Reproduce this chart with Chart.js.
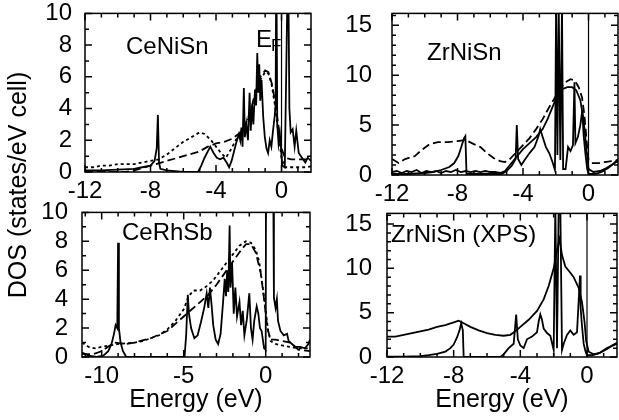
<!DOCTYPE html>
<html><head><meta charset="utf-8">
<script src="https://cdn.jsdelivr.net/npm/chart.js@4.4.0/dist/chart.umd.min.js"></script>
<style>
html,body{margin:0;padding:0;background:#fff;width:619px;height:420px;overflow:hidden;position:relative;}
canvas{position:absolute;}
.lbl{position:absolute;font-family:'Liberation Sans',Arial,Helvetica,sans-serif;color:#000;white-space:nowrap;line-height:1;}
</style></head><body>
<canvas id="c1"></canvas><canvas id="c2"></canvas><canvas id="c3"></canvas><canvas id="c4"></canvas>
<div class="lbl" style="left:126px;top:34px;font-size:24px">CeNiSn</div>
<div class="lbl" style="left:256px;top:27px;font-size:24px">E</div>
<div class="lbl" style="left:271px;top:37px;font-size:17px">F</div>
<div class="lbl" style="left:427px;top:40px;font-size:24px">ZrNiSn</div>
<div class="lbl" style="left:122px;top:220px;font-size:24px">CeRhSb</div>
<div class="lbl" style="left:391px;top:222px;font-size:24px">ZrNiSn (XPS)</div>
<div class="lbl" style="left:-132px;top:172px;width:300px;text-align:center;font-size:25px;transform:rotate(-90deg);transform-origin:150px 13px;">DOS (states/eV cell)</div>
<script>
// ---------- data (energy in eV, DOS in states/eV cell) ----------
const xTicksA = [-12, -8, -4, 0];
const xTicksB = [-10, -5, 0];
const yTicks10 = [0, 2, 4, 6, 8, 10];
const yTicks15 = [0, 5, 10, 15];

const efLine10 = [[0, 0], [0, 10]];
const efLine16 = [[0, 0], [0, 16.2]];

// CeNiSn
const ceNiSnCalc = [[-12,0.1],[-11,0.1],[-10,0.15],[-9,0.2],[-8.5,0.3],[-8,0.4],[-7.75,0.7],[-7.62,1.5],[-7.55,3.6],[-7.48,0.6],[-7.4,0.2],[-7,0.1],[-6,0],[-5.1,0],[-4.9,0.4],[-4.7,0.9],[-4.5,1.3],[-4.35,1.6],[-4.15,1.2],[-3.95,0.9],[-3.75,0.8],[-3.55,0.9],[-3.35,0.6],[-3.2,0.3],[-3.05,0.7],[-2.9,1.3],[-2.75,1.9],[-2.6,2.4],[-2.52,2.0],[-2.45,2.8],[-2.38,1.6],[-2.3,5.3],[-2.24,2.2],[-2.15,3.0],[-2.05,2.0],[-1.95,5.0],[-1.88,2.6],[-1.8,4.2],[-1.72,3.0],[-1.62,5.2],[-1.55,4.2],[-1.48,7.5],[-1.42,5.0],[-1.36,6.8],[-1.3,4.5],[-1.22,5.8],[-1.12,3.5],[-1.02,2.2],[-0.92,1.5],[-0.82,1.2],[-0.72,2.0],[-0.62,1.6],[-0.52,2.6],[-0.42,3.5],[-0.36,4.2],[-0.32,14],[-0.26,3.0],[-0.18,1.8],[-0.1,2.4],[0.05,0.4],[0.2,0.3],[0.4,14],[0.48,4.0],[0.56,2.5],[0.68,2.7],[0.8,1.6],[0.9,2.6],[1.05,1.2],[1.25,0.9],[1.45,0.6],[1.6,0.9],[1.8,0.7]];
const ceNiSnBroad = [[-12,0],[-9.5,0],[-9,0.1],[-8,0.4],[-7,0.7],[-6,1.0],[-5,1.3],[-4.5,1.6],[-4,1.8],[-3.5,1.9],[-3,2.1],[-2.5,2.5],[-2.2,3.0],[-1.9,3.8],[-1.6,5.0],[-1.3,6.0],[-1.0,6.4],[-0.8,6.3],[-0.6,5.6],[-0.4,4.5],[-0.2,3.0],[0,1.5],[0.2,0.9],[0.6,0.8],[1.0,0.8],[1.4,0.8],[1.8,0.8]];
const ceNiSnExp = [[-12,0.3],[-11.5,0.3],[-11,0.4],[-10.5,0.4],[-10,0.5],[-9.5,0.5],[-9,0.5],[-8.5,0.6],[-8,0.7],[-7.5,0.8],[-7,1.1],[-6.5,1.5],[-6,1.9],[-5.5,2.2],[-5,2.5],[-4.7,2.4],[-4.3,2.0],[-4.0,1.6],[-3.7,1.2],[-3.4,0.9],[-3.1,1.4],[-2.8,2.0],[-2.5,2.5],[-2.2,3.0],[-1.9,3.6],[-1.6,4.6],[-1.3,5.8],[-1.0,6.3],[-0.8,6.2],[-0.6,5.5],[-0.4,4.2],[-0.2,2.5],[0,0.9],[0.2,0.3],[0.6,0.3],[1.0,0.3],[1.4,0.3],[1.8,0.35]];

// ZrNiSn
const zrNiSnCalc = [[-12,0.1],[-11,0.1],[-10.5,0.15],[-10,0.2],[-9.5,0.3],[-9,0.5],[-8.5,0.8],[-8.2,1.2],[-7.95,1.9],[-7.75,2.9],[-7.6,3.7],[-7.52,3.9],[-7.45,0.1],[-7,0.1],[-6,0.1],[-5.3,0.1],[-5,0.4],[-4.7,0.9],[-4.45,1.6],[-4.38,5.0],[-4.3,1.6],[-4.1,1.0],[-3.9,1.5],[-3.6,2.2],[-3.3,2.8],[-3.05,3.9],[-2.95,4.6],[-2.8,3.8],[-2.6,2.8],[-2.4,2.2],[-2.2,1.3],[-2.05,0.5],[-1.98,17],[-1.9,2],[-1.82,17],[-1.72,1.5],[-1.62,17],[-1.55,0.6],[-1.4,0.6],[-1.25,2.8],[-1.1,2.4],[-0.95,3.0],[-0.86,9.3],[-0.8,3.2],[-0.65,3.8],[-0.5,5.0],[-0.38,6.5],[-0.3,4.0],[-0.18,2.0],[-0.08,0.6],[0,0.1],[0.4,0.1],[0.8,0.3],[1.2,0.7],[1.5,1.1],[1.8,1.4]];
const zrNiSnSmooth = [[-12,0.3],[-11.7,0.4],[-11.4,0.2],[-11.1,0.4],[-10.8,0.3],[-10.5,0.5],[-10.2,0.2],[-9.9,0.4],[-9.6,0.3],[-9.3,0.4],[-9,0.2],[-8.7,0.4],[-8.4,0.3],[-8.1,0.5],[-7.8,0.3],[-7.5,0.4],[-7.2,0.3],[-6.9,0.4],[-6.6,0.3],[-6.3,0.4],[-6,0.3],[-5.7,0.3],[-5.4,0.2],[-5.1,0.4],[-4.8,1.0],[-4.4,1.8],[-4.0,2.6],[-3.6,3.2],[-3.2,3.8],[-2.8,4.6],[-2.5,5.6],[-2.2,6.8],[-1.9,8.0],[-1.6,8.6],[-1.3,8.8],[-1.0,8.8],[-0.75,8.5],[-0.5,7.5],[-0.3,5.5],[-0.15,3.0],[0,0.6],[0.3,0.3],[0.7,0.4],[1.1,0.7],[1.5,1.1],[1.8,1.6]];
const zrNiSnBroad = [[-12,1.6],[-11.6,1.2],[-11.2,1.6],[-10.6,1.9],[-10.2,2.5],[-9.7,3.1],[-9.2,3.3],[-8.6,3.3],[-8.0,3.4],[-7.5,3.5],[-7.0,3.1],[-6.6,2.8],[-6.2,2.2],[-5.8,1.7],[-5.4,1.4],[-5.1,1.3],[-4.8,1.6],[-4.4,2.3],[-4.0,3.0],[-3.6,3.7],[-3.2,4.6],[-2.8,5.6],[-2.4,6.8],[-2.0,7.9],[-1.7,8.7],[-1.4,9.3],[-1.1,9.6],[-0.85,9.5],[-0.6,8.8],[-0.4,7.8],[-0.25,6.0],[-0.12,3.5],[0,1.5],[0.2,1.2],[0.6,1.2],[1.0,1.3],[1.4,1.4],[1.8,1.5]];

// CeRhSb
const ceRhSbCalc = [[-11.2,0.3],[-10.8,0.1],[-10.3,0],[-9.9,0.1],[-9.6,0.4],[-9.4,0.9],[-9.25,1.6],[-9.15,2.2],[-9.05,2.0],[-9.0,7.9],[-8.95,2.0],[-8.85,1.0],[-8.7,0.4],[-8.5,0],[-6,0],[-4.95,0],[-4.85,1.5],[-4.75,4.3],[-4.68,3.0],[-4.55,2.0],[-4.35,1.3],[-4.15,1.5],[-3.95,2.4],[-3.75,3.4],[-3.6,4.4],[-3.5,3.4],[-3.4,4.8],[-3.3,3.6],[-3.2,2.2],[-3.05,1.2],[-2.9,0.9],[-2.75,1.6],[-2.6,3.8],[-2.5,5.4],[-2.42,4.2],[-2.35,6.0],[-2.28,4.5],[-2.2,9.1],[-2.15,4.8],[-2.05,6.5],[-1.95,3.0],[-1.85,4.8],[-1.75,2.8],[-1.6,3.8],[-1.5,2.2],[-1.4,3.2],[-1.3,1.5],[-1.15,2.6],[-1.0,4.4],[-0.9,2.0],[-0.8,1.2],[-0.7,2.5],[-0.55,3.5],[-0.45,3.0],[-0.35,2.0],[-0.25,1.8],[-0.1,0.6],[0,0.5],[0.02,14],[0.45,14],[0.5,4.1],[0.6,3.4],[0.68,4.0],[0.75,2.5],[0.9,1.8],[1.1,1.5],[1.3,1.6],[1.4,1.1],[1.6,0.9],[1.8,0.7],[2.1,0.7],[2.4,0.6],[2.6,0.9],[2.7,1.2]];
const ceRhSbBroad = [[-11.2,0.2],[-10.5,0.2],[-10,0.4],[-9.5,0.8],[-9.2,1.0],[-8.5,0.9],[-8,1.0],[-7,1.3],[-6,1.8],[-5,2.8],[-4.5,3.3],[-4,3.8],[-3.5,4.3],[-3,5.0],[-2.5,5.8],[-2,6.6],[-1.5,7.4],[-1.2,7.8],[-0.9,7.8],[-0.6,7.2],[-0.3,5.8],[-0.1,4.0],[0.1,2.0],[0.3,1.2],[0.6,1.2],[1,1.1],[1.5,1.0],[2,0.5],[2.7,0.4]];
const ceRhSbExp = [[-11.2,1.0],[-10.8,0.7],[-10.4,0.6],[-10,0.7],[-9.5,0.8],[-9,0.9],[-8.5,0.95],[-8,1.0],[-7.5,1.1],[-7,1.3],[-6.5,1.5],[-6,1.9],[-5.5,2.5],[-5,3.3],[-4.7,4.2],[-4.4,4.6],[-4,4.6],[-3.6,4.9],[-3.2,5.3],[-2.8,5.9],[-2.4,6.5],[-2,7.1],[-1.6,7.7],[-1.2,8.0],[-0.9,7.9],[-0.6,7.4],[-0.4,6.6],[-0.2,5.0],[0,3.2],[0.15,1.8],[0.3,1.1],[0.6,0.9],[1,0.8],[1.5,0.7],[2,0.6],[2.7,0.6]];

// ZrNiSn (XPS)
const zrNiSnXps = [[-12,2.3],[-11.5,2.3],[-11,2.5],[-10.5,2.7],[-10,2.9],[-9.5,3.1],[-9,3.4],[-8.5,3.6],[-8,3.9],[-7.7,4.1],[-7.4,3.8],[-7,3.4],[-6.5,3.0],[-6,2.7],[-5.5,2.5],[-5,2.4],[-4.6,2.5],[-4.3,2.9],[-4,3.4],[-3.5,4.2],[-3,5.2],[-2.6,6.5],[-2.3,8.0],[-2.0,10.0],[-1.8,12.0],[-1.65,13.3],[-1.5,11.5],[-1.3,10.2],[-1.0,9.5],[-0.8,9.0],[-0.5,7.8],[-0.3,6.2],[-0.15,4.0],[-0.05,1.8],[0.1,0.6],[0.4,0.3],[0.8,0.5],[1.2,0.9],[1.5,1.3],[1.8,1.6]];
const zrNiSnCalc2 = [[-12,0.05],[-11,0.05],[-10,0.1],[-9.5,0.2],[-9,0.35],[-8.5,0.6],[-8.2,1.0],[-8.0,1.4],[-7.8,2.2],[-7.65,3.0],[-7.55,3.8],[-7.45,3.0],[-7.4,0.0],[-7,0],[-6,0],[-5.2,0],[-5,0.3],[-4.7,1.0],[-4.4,1.5],[-4.25,4.8],[-4.15,2.0],[-4.0,1.3],[-3.8,1.0],[-3.6,2.0],[-3.3,2.3],[-3.0,2.8],[-2.9,4.0],[-2.8,4.8],[-2.7,4.2],[-2.6,3.2],[-2.4,2.7],[-2.2,2.4],[-2.0,0.8],[-1.9,17],[-1.8,1.0],[-1.7,17],[-1.6,17],[-1.5,0.8],[-1.4,1.5],[-1.2,2.5],[-1.0,3.0],[-0.8,2.5],[-0.6,2.8],[-0.42,9.2],[-0.38,5.5],[-0.3,3.5],[-0.2,1.5],[-0.1,0.7],[0,0.2],[0.3,0.2],[0.7,0.4],[1.2,1.0],[1.8,1.5]];

// ---------- drawing ----------
const FONT = "'Liberation Sans', Arial, Helvetica, sans-serif";
const SOLID = {};
const DASH = {borderDash: [8, 4]};
const SHORT = {borderDash: [3, 3]};
const EF = {borderWidth: 1.2};

const framePlugin = {
  id: 'frame',
  afterDatasetsDraw(chart, args, o) {
    const {ctx, chartArea: {left, top, right, bottom}, scales: {x, y}} = chart;
    ctx.save();
    ctx.strokeStyle = '#000';
    ctx.lineWidth = 1.5;
    ctx.beginPath();
    const ln = (a, b, c, d) => { ctx.moveTo(a, b); ctx.lineTo(c, d); };
    for (let v = Math.ceil(x.min - 1e-9); v <= x.max + 1e-9; v += 1) {
      const p = x.getPixelForValue(v);
      const L = (Math.abs(v % o.xMajor) < 1e-6) ? 7 : 4;
      ln(p, bottom, p, bottom - L); ln(p, top, p, top + L);
    }
    for (let v = Math.ceil(y.min - 1e-9); v <= y.max + 1e-9; v += 1) {
      const p = y.getPixelForValue(v);
      const L = (Math.abs(v % o.yMajor) < 1e-6) ? 7 : 4;
      ln(left, p, left + L, p); ln(right, p, right - L, p);
    }
    ctx.stroke();
    ctx.strokeRect(left, top, right - left, bottom - top);
    ctx.restore();
  }
};

function ds(pairs, style) {
  return Object.assign({
    data: pairs.map(p => ({x: p[0], y: p[1]})),
    borderColor: '#000', borderWidth: 1.8, pointRadius: 0, fill: false, tension: 0
  }, style);
}

const panels = [
  {id: 'c1', l: 85, t: 13, r: 311, b: 172, xMin: -12, xMax: 1.8, yMax: 10, xT: xTicksA, yT: yTicks10, xMajor: 4, yMajor: 2, yPad: 13, title: null,
   sets: () => [ds(ceNiSnExp, SHORT), ds(ceNiSnBroad, DASH), ds(ceNiSnCalc, SOLID), ds(efLine10, EF)]},
  {id: 'c2', l: 392, t: 13, r: 618, b: 175, xMin: -12, xMax: 1.8, yMax: 16.2, xT: xTicksA, yT: yTicks15, xMajor: 4, yMajor: 5, yPad: 20, title: null,
   sets: () => [ds(zrNiSnBroad, DASH), ds(zrNiSnSmooth, SOLID), ds(zrNiSnCalc, SOLID), ds(efLine16, EF)]},
  {id: 'c3', l: 82, t: 212, r: 310, b: 357, xMin: -11.2, xMax: 2.7, yMax: 10, xT: xTicksB, yT: yTicks10, xMajor: 5, yMajor: 2, yPad: 14, title: 'Energy (eV)',
   sets: () => [ds(ceRhSbExp, SHORT), ds(ceRhSbBroad, DASH), ds(ceRhSbCalc, SOLID)]},
  {id: 'c4', l: 387, t: 213, r: 617, b: 357, xMin: -12, xMax: 1.8, yMax: 16.2, xT: xTicksA, yT: yTicks15, xMajor: 4, yMajor: 5, yPad: 15, title: 'Energy (eV)',
   sets: () => [ds(zrNiSnXps, SOLID), ds(zrNiSnCalc2, SOLID), ds(efLine16, EF)]}
];

const YW = 80, PT = 20, PR = 12;

function build(P, cv, w, h, XH) {
  cv.width = w; cv.height = h;
  cv.style.width = w + 'px'; cv.style.height = h + 'px';
  return new Chart(cv, {
    type: 'line',
    data: {datasets: P.sets()},
    plugins: [framePlugin],
    options: {
      responsive: false, animation: false, devicePixelRatio: 1,
      layout: {padding: {left: 0, top: PT, right: PR, bottom: 0}},
      plugins: {legend: {display: false}, tooltip: {enabled: false}, frame: {xMajor: P.xMajor, yMajor: P.yMajor}},
      scales: {
        x: {
          type: 'linear', min: P.xMin, max: P.xMax,
          afterBuildTicks: s => { s.ticks = P.xT.map(v => ({value: v})); },
          afterFit: s => { s.height = XH; },
          grid: {display: false, drawTicks: false}, border: {display: false},
          ticks: {color: '#000', font: {family: FONT, size: 24}, padding: 5, maxRotation: 0, autoSkip: false, callback: v => String(v)},
          title: {display: !!P.title, text: P.title || '', color: '#000', font: {family: FONT, size: 25}, padding: {top: 0, bottom: 0}}
        },
        y: {
          type: 'linear', min: 0, max: P.yMax,
          afterBuildTicks: s => { s.ticks = P.yT.map(v => ({value: v})); },
          afterFit: s => { s.width = YW; },
          grid: {display: false, drawTicks: false}, border: {display: false},
          ticks: {color: '#000', font: {family: FONT, size: 24}, padding: P.yPad, autoSkip: false, callback: v => String(v)}
        }
      }
    }
  });
}

panels.forEach(P => {
  const XH = P.title ? 58 : 40;
  const cv = document.getElementById(P.id);
  const w = YW + (P.r - P.l) + PR;
  let h = PT + (P.b - P.t) + XH;
  let ch = build(P, cv, w, h, XH);
  const dy = Math.round(ch.chartArea.top - PT);
  let off = PT;
  if (dy !== 0) {
    ch.destroy();
    h += dy; off = PT + dy;
    ch = build(P, cv, w, h, XH);
  }
  cv.style.left = (P.l - YW) + 'px';
  cv.style.top = (P.t - off) + 'px';
});
</script>
</body></html>
